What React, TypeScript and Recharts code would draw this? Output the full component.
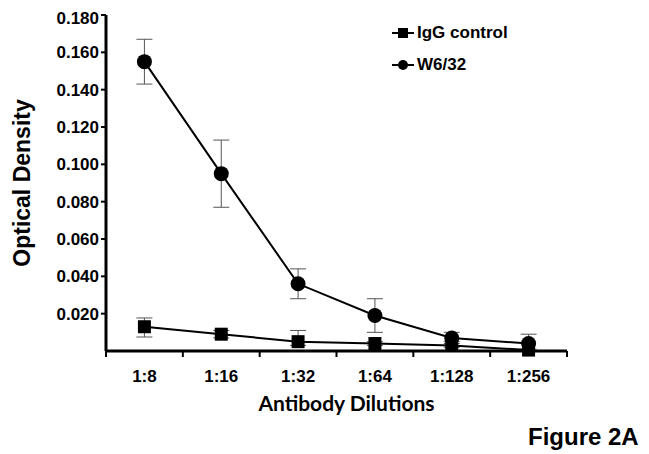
import React from 'react';
import { LineChart, Line, XAxis, YAxis, ErrorBar, Legend, Label } from 'recharts';

const categories = ['1:8', '1:16', '1:32', '1:64', '1:128', '1:256'];
const w632 = [0.155, 0.095, 0.036, 0.019, 0.007, 0.004];
const w632ErrLow = [0.012, 0.018, 0.008, 0.009, 0.002, 0.004];
const w632ErrHigh = [0.012, 0.018, 0.008, 0.009, 0.003, 0.005];
const igg = [0.013, 0.009, 0.005, 0.004, 0.003, 0.0005];
const iggErrLow = [0.0055, 0.002, 0.002, 0.001, 0.001, 0.0005];
const iggErrHigh = [0.0047, 0.002, 0.006, 0.001, 0.001, 0.0005];
const yTicks = [0.02, 0.04, 0.06, 0.08, 0.1, 0.12, 0.14, 0.16, 0.18];

const data = categories.map((c, i) => ({
  pos: i + 0.5,
  cat: c,
  w632: w632[i],
  w632Err: [w632ErrLow[i], w632ErrHigh[i]],
  igg: igg[i],
  iggErr: [iggErrLow[i], iggErrHigh[i]],
}));

const boundaryTicks = categories.map((_, i) => i).concat([categories.length]);
const labelTicks = categories.map((_, i) => i + 0.5);

const FONT = 'Liberation Sans, Arial, sans-serif';

const SquareDot = (props: any) => {
  const { cx, cy } = props;
  if (cx == null || cy == null) return null;
  return <rect x={cx - 6.5} y={cy - 6.5} width={13} height={13} fill="#000" />;
};
const CircleDot = (props: any) => {
  const { cx, cy } = props;
  if (cx == null || cy == null) return null;
  return <circle cx={cx} cy={cy} r={7.5} fill="#000" />;
};

const LegendContent = () => (
  <div style={{ fontFamily: FONT, fontWeight: 'bold', fontSize: 17, color: '#000' }}>
    <div style={{ display: 'flex', alignItems: 'center', height: 20, marginBottom: 12 }}>
      <svg width={22} height={14} style={{ marginRight: 3 }}>
        <line x1={0} y1={7} x2={22} y2={7} stroke="#000" strokeWidth={2} />
        <rect x={6} y={2} width={10} height={10} fill="#000" />
      </svg>
      <span>IgG control</span>
    </div>
    <div style={{ display: 'flex', alignItems: 'center', height: 20 }}>
      <svg width={22} height={14} style={{ marginRight: 3 }}>
        <line x1={0} y1={7} x2={22} y2={7} stroke="#000" strokeWidth={2} />
        <circle cx={11} cy={7} r={5} fill="#000" />
      </svg>
      <span>W6/32</span>
    </div>
  </div>
);

const YTitle = (props: any) => {
  const vb = props.viewBox || { x: 0, y: 0, width: 0, height: 0 };
  const x = vb.x + 14;
  const y = vb.y + vb.height / 2;
  return (
    <text
      x={x}
      y={y}
      transform={`rotate(-90, ${x}, ${y})`}
      textAnchor="middle"
      dominantBaseline="central"
      style={{ fill: '#000', fontFamily: FONT, fontWeight: 'bold', fontSize: 23 }}
    >
      Optical Density
    </text>
  );
};

export default function App() {
  return (
    <div style={{ position: 'relative', width: 641, height: 446 }}>
      <LineChart
        width={641}
        height={446}
        data={data}
        margin={{ top: 7, right: 82, left: 0, bottom: 0 }}
      >
        <XAxis
          xAxisId="a"
          dataKey="pos"
          type="number"
          domain={[0, categories.length]}
          ticks={boundaryTicks}
          tickSize={6}
          tick={() => <g />}
          axisLine={{ stroke: '#000', strokeWidth: 3 }}
          tickLine={{ stroke: '#000', strokeWidth: 2 }}
          height={6}
        />
        <XAxis
          xAxisId="b"
          dataKey="pos"
          type="number"
          domain={[0, categories.length]}
          ticks={labelTicks}
          tickFormatter={(v: number) => categories[Math.floor(v)]}
          axisLine={false}
          tickLine={false}
          tick={{ fill: '#000', fontFamily: FONT, fontWeight: 'bold', fontSize: 17 }}
          tickMargin={7}
          height={97}
        >
          <Label
            value="Antibody Dilutions"
            position="insideTop"
            offset={39}
            dx={10}
            style={{ fill: '#000', fontFamily: 'Lato, sans-serif', fontWeight: 'bold', fontSize: 21 }}
          />
        </XAxis>
        <YAxis
          type="number"
          domain={[0, 0.18]}
          ticks={yTicks}
          tickFormatter={(v: number) => v.toFixed(3)}
          width={98}
          tickSize={5}
          tickMargin={2}
          axisLine={{ stroke: '#000', strokeWidth: 3 }}
          tickLine={{ stroke: '#000', strokeWidth: 2 }}
          tick={{ fill: '#000', fontFamily: FONT, fontWeight: 'bold', fontSize: 17 }}
        >
          <Label content={<YTitle />} />
        </YAxis>
        <Legend
          layout="vertical"
          verticalAlign="middle"
          align="center"
          content={<LegendContent />}
          wrapperStyle={{ top: 15, left: 384, width: 200 }}
        />
        <Line
          xAxisId="a"
          dataKey="igg"
          stroke="#000"
          strokeWidth={2}
          dot={<SquareDot />}
          isAnimationActive={false}
        >
          <ErrorBar dataKey="iggErr" width={8} stroke="#555" strokeWidth={1} direction="y" />
        </Line>
        <Line
          xAxisId="a"
          dataKey="w632"
          stroke="#000"
          strokeWidth={2}
          dot={<CircleDot />}
          isAnimationActive={false}
        >
          <ErrorBar dataKey="w632Err" width={8} stroke="#555" strokeWidth={1} direction="y" />
        </Line>
      </LineChart>
      <div
        style={{
          position: 'absolute',
          left: 520,
          top: 415,
          fontFamily: FONT,
          fontWeight: 'bold',
          fontSize: 24,
          color: '#000',
          whiteSpace: 'nowrap',
        }}
      >
        Figure 2A
      </div>
    </div>
  );
}
